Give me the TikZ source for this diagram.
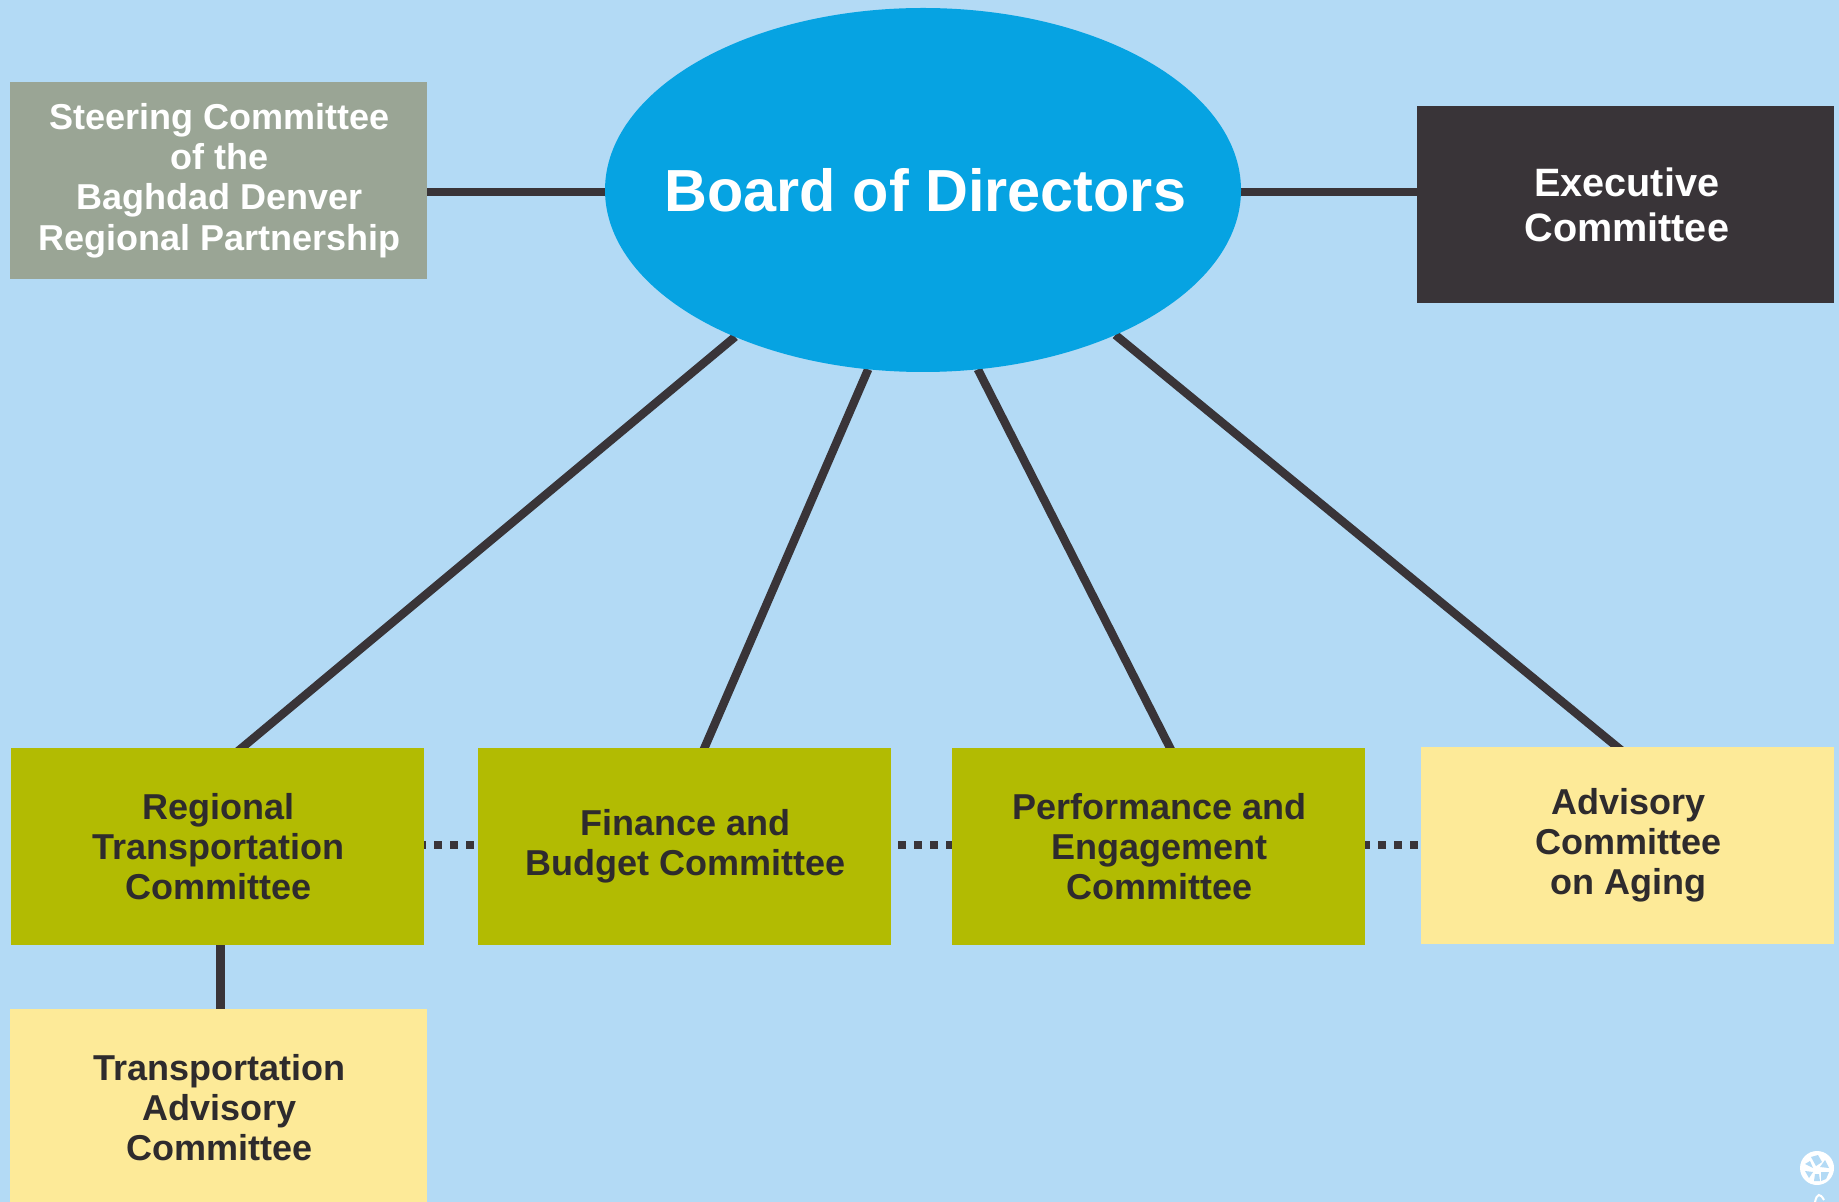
\documentclass[tikz,border=0pt]{standalone}
\usepackage{fontspec}
\setmainfont{Liberation Sans}
\usetikzlibrary{shapes.geometric,calc}
\definecolor{bgblue}{HTML}{B3DAF5}
\definecolor{boardblue}{HTML}{06A3E2}
\definecolor{linedark}{HTML}{393438}
\definecolor{sage}{HTML}{9AA595}
\definecolor{olive}{HTML}{B2BB02}
\definecolor{paleyellow}{HTML}{FDEA98}
\definecolor{textdark}{HTML}{2E2B2D}
\newcommand{\nudge}{\hspace*{1.2pt}}
\pgfdeclarelayer{paper}
\pgfdeclarelayer{wires}
\pgfsetlayers{paper,wires,main}
\tikzset{
  x=0.5pt,y=-0.5pt,
  box/.style={rectangle,inner sep=0pt,outer sep=0pt,align=center,anchor=north west,font=\bfseries\fontsize{18}{20.1}\selectfont},
  boardnode/.style={ellipse,fill=boardblue,text=white,inner sep=0pt,outer sep=0pt,minimum width=318pt,minimum height=182pt,font=\bfseries\fontsize{29.7}{34}\selectfont},
  link/.style={draw=linedark,line width=4.2pt},
  dotlink/.style={draw=linedark,line width=4pt,dash pattern=on 4pt off 4pt}
}
\begin{document}
\begin{tikzpicture}
\useasboundingbox (0,0) rectangle (1839,1202);
\begin{pgfonlayer}{paper}
\fill[bgblue] (0,0) rectangle (1839,1202);
\end{pgfonlayer}
\node[boardnode] (brd) at (923,190) {\makebox[0pt][c]{\kern2.4pt Board of Directors}};
\node[box,fill=sage,text=white,minimum width=208.5pt,minimum height=98.5pt] (ste) at (10,82) {\nudge Steering Committee\\\nudge of the\\\nudge Baghdad Denver\\\nudge Regional Partnership};
\node[box,fill=linedark,text=white,minimum width=208.5pt,minimum height=98.5pt,font=\bfseries\fontsize{19.8}{22.5}\selectfont] (exe) at (1417,106) {\nudge Executive\\\nudge Committee};
\node[box,fill=olive,text=textdark,minimum width=206.5pt,minimum height=98.5pt] (rtc) at (11,748) {\nudge Regional\\\nudge Transportation\\\nudge Committee};
\node[box,fill=olive,text=textdark,minimum width=206.5pt,minimum height=98.5pt] (fin) at (478,748) {\nudge Finance and\\\nudge Budget Committee};
\node[box,fill=olive,text=textdark,minimum width=206.5pt,minimum height=98.5pt] (per) at (952,748) {\nudge Performance and\\\nudge Engagement\\\nudge Committee};
\node[box,fill=paleyellow,text=textdark,minimum width=206.5pt,minimum height=98.5pt] (adv) at (1421,747) {\nudge Advisory\\\nudge Committee\\\nudge on Aging};
\node[box,fill=paleyellow,text=textdark,minimum width=208.5pt,minimum height=98.5pt] (tac) at (10,1009) {\nudge Transportation\\\nudge Advisory\\\nudge Committee};
\begin{pgfonlayer}{wires}
\draw[link] ($(ste.east |- brd)+(0,2)$) -- ($(brd.west)+(0,2)$);
\draw[link] ($(brd.east)+(0,2)$) -- ($(exe.west |- brd)+(0,2)$);
\draw[link] (brd.218.5) -- ($(rtc.north west)!.547!(rtc.north east)+(0,4)$);
\draw[link] (brd.253.6) -- ($(fin.north west)!.544!(fin.north east)+(0,4)$);
\draw[link] (brd.287.1) -- ($(per.north west)!.533!(per.north east)+(0,4)$);
\draw[link] (brd.323.7) -- ($(adv.north west)!.487!(adv.north east)+(0,4)$);
\draw[link] ([xshift=1.5pt]rtc.south) -- ([xshift=1.5pt]rtc.south |- tac.north);
\draw[dotlink,dash phase=3pt] ($(rtc.east)+(0,-1.5)$) -- ($(fin.west)+(0,-1.5)$);
\draw[dotlink,dash phase=4.5pt] ($(fin.east)+(0,-1.5)$) -- ($(per.west)+(0,-1.5)$);
\draw[dotlink,dash phase=1.5pt] ($(per.east)+(0,-1.5)$) -- ($(adv.west)+(0,-0.5)$);
\end{pgfonlayer}
% recycling badge
\fill[white] (1817,1168) circle (8.5pt);
\begin{scope}[bgblue]
\fill (1811,1157) -- (1818,1155) -- (1822,1162) -- (1816,1166) -- cycle;
\fill (1825,1160) -- (1829,1168) -- (1820,1167) -- cycle;
\fill (1829,1172) -- (1826,1179) -- (1821,1181) -- (1821,1172) -- cycle;
\fill (1805,1164) -- (1810,1161) -- (1813,1168) -- cycle;
\fill (1805,1171) -- (1813,1172) -- (1809,1178) -- cycle;
\fill (1815,1174) -- (1819,1174) -- (1820,1181) -- (1814,1181) -- cycle;
\end{scope}
\draw[white,line width=1pt] (1815,1202) .. controls (1817,1193) and (1820,1193) .. (1824,1200);
\end{tikzpicture}
\end{document}
